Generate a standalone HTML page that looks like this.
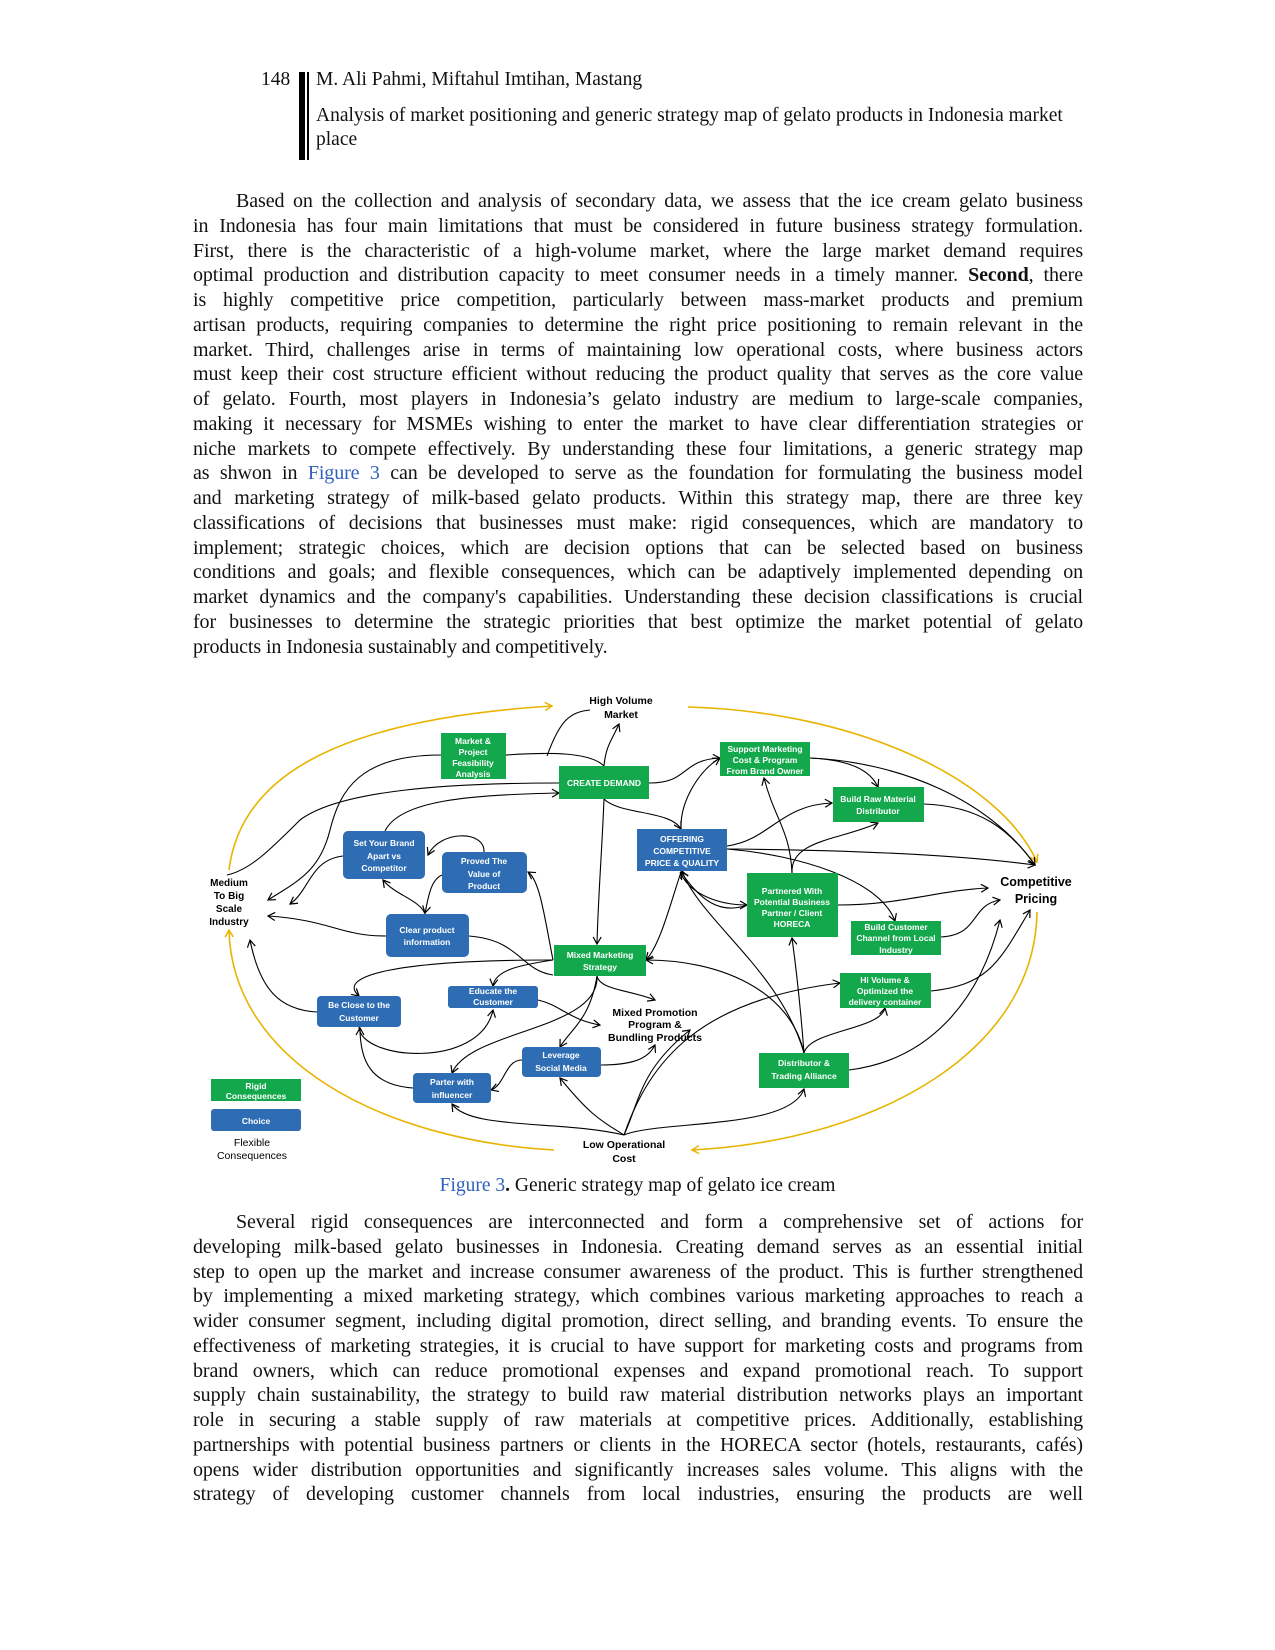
<!DOCTYPE html>
<html><head><meta charset="utf-8"><style>
html,body{margin:0;padding:0;background:#fff;}
body{width:1275px;height:1650px;position:relative;overflow:hidden;font-family:"Liberation Serif",serif;color:#111;}
.t{position:absolute;font-size:19.5px;white-space:nowrap;}
.p{position:absolute;left:193px;width:890px;font-size:20px;letter-spacing:-0.1px;}
.p div{height:24.75px;line-height:24.75px;text-align:justify;text-align-last:justify;white-space:nowrap;}
.p div.l{text-align-last:left;}
.p div.i{padding-left:43px;}
a{color:#2f5fbf;text-decoration:none;}
</style></head><body>
<div class="t" style="left:261px;top:69px;">148</div>
<div style="position:absolute;left:299px;top:72px;width:6px;height:88px;background:#000"></div>
<div style="position:absolute;left:307px;top:72px;width:1.5px;height:88px;background:#000"></div>
<div class="t" style="left:316px;top:69px;">M. Ali Pahmi, Miftahul Imtihan, Mastang</div>
<div class="t" style="left:316px;top:105px;">Analysis of market positioning and generic strategy map of gelato products in Indonesia market</div>
<div class="t" style="left:316px;top:129px;">place</div>

<div class="p" style="top:189px;">
<div class="i">Based on the collection and analysis of secondary data, we assess that the ice cream gelato business</div>
<div>in Indonesia has four main limitations that must be considered in future business strategy formulation.</div>
<div>First, there is the characteristic of a high-volume market, where the large market demand requires</div>
<div>optimal production and distribution capacity to meet consumer needs in a timely manner. <b>Second</b>, there</div>
<div>is highly competitive price competition, particularly between mass-market products and premium</div>
<div>artisan products, requiring companies to determine the right price positioning to remain relevant in the</div>
<div>market. Third, challenges arise in terms of maintaining low operational costs, where business actors</div>
<div>must keep their cost structure efficient without reducing the product quality that serves as the core value</div>
<div>of gelato. Fourth, most players in Indonesia’s gelato industry are medium to large-scale companies,</div>
<div>making it necessary for MSMEs wishing to enter the market to have clear differentiation strategies or</div>
<div>niche markets to compete effectively. By understanding these four limitations, a generic strategy map</div>
<div>as shwon in <a>Figure 3</a> can be developed to serve as the foundation for formulating the business model</div>
<div>and marketing strategy of milk-based gelato products. Within this strategy map, there are three key</div>
<div>classifications of decisions that businesses must make: rigid consequences, which are mandatory to</div>
<div>implement; strategic choices, which are decision options that can be selected based on business</div>
<div>conditions and goals; and flexible consequences, which can be adaptively implemented depending on</div>
<div>market dynamics and the company's capabilities. Understanding these decision classifications is crucial</div>
<div>for businesses to determine the strategic priorities that best optimize the market potential of gelato</div>
<div class="l">products in Indonesia sustainably and competitively.</div>
</div>

<svg style="position:absolute;left:0;top:0" width="1275" height="1650" viewBox="0 0 1275 1650">
<defs>
<marker id="a" markerWidth="10" markerHeight="10" refX="8" refY="5" orient="auto" markerUnits="userSpaceOnUse"><path d="M1,1 L8,5 L1,9" fill="none" stroke="#000" stroke-width="1.2"/></marker>
<marker id="y" markerWidth="10" markerHeight="10" refX="8" refY="5" orient="auto" markerUnits="userSpaceOnUse"><path d="M1,1 L8,5 L1,9" fill="none" stroke="#e8b400" stroke-width="1.5"/></marker>
</defs>
<g fill="none" stroke="#e8b400" stroke-width="1.6">
<path d="M229,870 C240,780 330,720 552,706" marker-end="url(#y)"/>
<path d="M688,707 C860,712 1000,780 1037,862" marker-end="url(#y)"/>
<path d="M1037,912 C1035,1050 880,1140 692,1150" marker-end="url(#y)"/>
<path d="M554,1150 C380,1140 232,1060 229,930" marker-end="url(#y)"/>
</g>
<g fill="none" stroke="#000" stroke-width="1.1" marker-end="url(#a)">
<path d="M604,766 C606,745 612,740 619,724"/>
<path d="M506,755 C550,752 590,752 604,766" marker-end="none"/>
<path d="M547,756 C560,720 570,712 590,710" marker-end="none"/>
<path d="M441,755 C360,755 340,790 330,830 C320,870 300,880 268,900"/>
<path d="M559,783 C450,783 340,790 300,820 C270,850 250,870 227,875" marker-end="none"/>
<path d="M385,831 C400,800 470,795 559,793"/>
<path d="M343,856 C310,860 310,890 290,904"/>
<path d="M484,852 C485,830 440,830 428,855"/>
<path d="M442,875 C430,880 428,900 425,913"/>
<path d="M425,914 C420,900 395,895 383,880"/>
<path d="M386,936 C340,936 330,920 268,916"/>
<path d="M469,936 C520,940 520,970 553,975" marker-end="none"/>
<path d="M553,960 C545,920 540,880 528,872"/>
<path d="M604,799 C602,850 598,900 597,944"/>
<path d="M649,783 C690,783 680,760 720,758"/>
<path d="M604,799 C620,815 670,810 681,829"/>
<path d="M681,829 C680,800 700,770 720,758"/>
<path d="M810,758 C850,760 870,770 878,787"/>
<path d="M810,758 C900,762 990,800 1035,865"/>
<path d="M924,804 C980,806 1010,830 1035,865" marker-end="none"/>
<path d="M727,846 C770,840 780,805 832,803"/>
<path d="M727,849 C850,850 960,855 1035,865"/>
<path d="M727,849 C800,855 880,880 895,921"/>
<path d="M792,873 C790,840 840,840 878,823"/>
<path d="M792,873 C790,830 775,820 764,778"/>
<path d="M838,905 C900,905 940,890 988,888"/>
<path d="M941,937 C980,935 970,905 1000,900"/>
<path d="M931,991 C990,985 1000,960 1030,910"/>
<path d="M680,872 C690,895 720,905 747,905"/>
<path d="M747,905 C720,915 700,900 681,872"/>
<path d="M681,872 C670,905 660,945 646,960"/>
<path d="M553,960 C400,960 335,975 359,996"/>
<path d="M553,960 C520,965 495,970 493,986"/>
<path d="M597,976 C600,990 630,990 655,1000"/>
<path d="M597,976 C590,1020 570,1030 560,1047"/>
<path d="M597,976 C600,1030 470,1030 452,1073"/>
<path d="M538,1000 C560,1005 570,1020 600,1025"/>
<path d="M359,1027 C360,1060 480,1070 493,1010"/>
<path d="M317,1012 C280,1010 260,990 250,940"/>
<path d="M413,1088 C370,1085 360,1060 360,1028"/>
<path d="M522,1060 C505,1060 505,1085 491,1090"/>
<path d="M601,1065 C640,1065 650,1055 655,1045"/>
<path d="M624,1135 C600,1120 590,1115 560,1078"/>
<path d="M624,1135 C560,1120 470,1130 452,1104"/>
<path d="M624,1135 C640,1100 640,1070 690,1030"/>
<path d="M624,1135 C660,1120 790,1130 804,1089"/>
<path d="M624,1135 C650,1060 700,1000 840,983"/>
<path d="M804,1053 C800,1000 795,960 792,938"/>
<path d="M804,1053 C810,1030 880,1030 885,1008"/>
<path d="M804,1053 C790,990 720,960 646,960"/>
<path d="M804,1053 C780,970 700,920 682,871"/>
<path d="M849,1070 C930,1060 980,1000 1000,920"/>
</g>
<g font-family="Liberation Sans, sans-serif" font-size="8.5" fill="#fff" font-weight="bold" text-anchor="middle">
<rect x="441" y="733" width="65" height="46" fill="#13a84b"/>
<text x="473" y="744">Market &amp;</text><text x="473" y="755">Project</text><text x="473" y="766">Feasibility</text><text x="473" y="777">Analysis</text>
<rect x="559" y="766" width="90" height="33" fill="#13a84b"/>
<text x="604" y="786">CREATE DEMAND</text>
<rect x="343" y="831" width="82" height="48" rx="5" fill="#2e6db4"/>
<text x="384" y="846">Set Your Brand</text><text x="384" y="859">Apart vs</text><text x="384" y="871">Competitor</text>
<rect x="442" y="852" width="85" height="41" rx="5" fill="#2e6db4"/>
<text x="484" y="864">Proved The</text><text x="484" y="877">Value of</text><text x="484" y="889">Product</text>
<rect x="386" y="914" width="83" height="43" rx="5" fill="#2e6db4"/>
<text x="427" y="933">Clear product</text><text x="427" y="945">information</text>
<rect x="637" y="829" width="90" height="42" fill="#2e6db4"/>
<text x="682" y="842">OFFERING</text><text x="682" y="854">COMPETITIVE</text><text x="682" y="866">PRICE &amp; QUALITY</text>
<rect x="720" y="742" width="90" height="34" fill="#13a84b"/>
<text x="765" y="752">Support Marketing</text><text x="765" y="763">Cost &amp; Program</text><text x="765" y="774">From Brand Owner</text>
<rect x="833" y="787" width="91" height="35" fill="#13a84b"/>
<text x="878" y="802">Build Raw Material</text><text x="878" y="814">Distributor</text>
<rect x="747" y="873" width="91" height="64" fill="#13a84b"/>
<text x="792" y="894">Partnered With</text><text x="792" y="905">Potential Business</text><text x="792" y="916">Partner / Client</text><text x="792" y="927">HORECA</text>
<rect x="851" y="921" width="90" height="34" fill="#13a84b"/>
<text x="896" y="930">Build Customer</text><text x="896" y="941">Channel from Local</text><text x="896" y="953">Industry</text>
<rect x="554" y="945" width="92" height="31" fill="#13a84b"/>
<text x="600" y="958">Mixed Marketing</text><text x="600" y="970">Strategy</text>
<rect x="448" y="986" width="90" height="22" rx="3" fill="#2e6db4"/>
<text x="493" y="994">Educate the</text><text x="493" y="1005">Customer</text>
<rect x="317" y="996" width="84" height="31" rx="4" fill="#2e6db4"/>
<text x="359" y="1008">Be Close to the</text><text x="359" y="1021">Customer</text>
<rect x="522" y="1047" width="79" height="30" rx="4" fill="#2e6db4"/>
<text x="561" y="1058">Leverage</text><text x="561" y="1071">Social Media</text>
<rect x="413" y="1073" width="78" height="30" rx="4" fill="#2e6db4"/>
<text x="452" y="1085">Parter with</text><text x="452" y="1098">influencer</text>
<rect x="759" y="1053" width="90" height="35" fill="#13a84b"/>
<text x="804" y="1066">Distributor &amp;</text><text x="804" y="1079">Trading Alliance</text>
<rect x="840" y="973" width="91" height="35" fill="#13a84b"/>
<text x="885" y="983">Hi Volume &amp;</text><text x="885" y="994">Optimized the</text><text x="885" y="1005">delivery container</text>
<rect x="211" y="1079" width="90" height="22" fill="#13a84b"/>
<text x="256" y="1089">Rigid</text><text x="256" y="1099">Consequences</text>
<rect x="211" y="1109" width="90" height="22" rx="3" fill="#2e6db4"/>
<text x="256" y="1124">Choice</text>
</g>
<g font-family="Liberation Sans, sans-serif" font-size="10.5" fill="#000" font-weight="bold" text-anchor="middle">
<text x="621" y="704">High Volume</text><text x="621" y="718">Market</text>
<text x="229" y="886" font-size="10">Medium</text><text x="229" y="899" font-size="10">To Big</text><text x="229" y="912" font-size="10">Scale</text><text x="229" y="925" font-size="10">Industry</text>
<text x="1036" y="886" font-size="12.5">Competitive</text><text x="1036" y="903" font-size="12.5">Pricing</text>
<text x="655" y="1016">Mixed Promotion</text><text x="655" y="1028">Program &amp;</text><text x="655" y="1041">Bundling Products</text>
<text x="624" y="1148">Low Operational</text><text x="624" y="1162">Cost</text>
<text x="252" y="1146" font-weight="normal">Flexible</text><text x="252" y="1159" font-weight="normal">Consequences</text>
</g>
</svg>

<div class="t" style="left:0;width:1275px;text-align:center;top:1175px;"><a>Figure 3</a><b>.</b> Generic strategy map of gelato ice cream</div>

<div class="p" style="top:1210px;">
<div class="i">Several rigid consequences are interconnected and form a comprehensive set of actions for</div>
<div>developing milk-based gelato businesses in Indonesia. Creating demand serves as an essential initial</div>
<div>step to open up the market and increase consumer awareness of the product. This is further strengthened</div>
<div>by implementing a mixed marketing strategy, which combines various marketing approaches to reach a</div>
<div>wider consumer segment, including digital promotion, direct selling, and branding events. To ensure the</div>
<div>effectiveness of marketing strategies, it is crucial to have support for marketing costs and programs from</div>
<div>brand owners, which can reduce promotional expenses and expand promotional reach. To support</div>
<div>supply chain sustainability, the strategy to build raw material distribution networks plays an important</div>
<div>role in securing a stable supply of raw materials at competitive prices. Additionally, establishing</div>
<div>partnerships with potential business partners or clients in the HORECA sector (hotels, restaurants, cafés)</div>
<div>opens wider distribution opportunities and significantly increases sales volume. This aligns with the</div>
<div>strategy of developing customer channels from local industries, ensuring the products are well</div>
</div>
</body></html>
